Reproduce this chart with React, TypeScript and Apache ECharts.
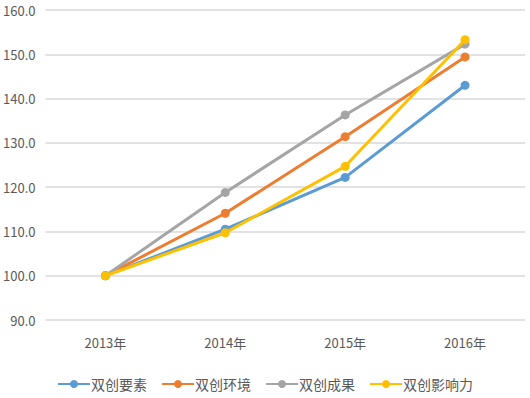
import React, { useEffect, useRef } from "react";
import * as echarts from "echarts";

const categories = ["2013年", "2014年", "2015年", "2016年"];
const seriesNames = ["双创要素", "双创环境", "双创成果", "双创影响力"];
const elementValues = [100.0, 110.5, 122.2, 143.0];
const environmentValues = [100.0, 114.1, 131.4, 149.4];
const achievementValues = [100.0, 118.8, 136.3, 152.3];
const influenceValues = [100.0, 109.7, 124.7, 153.3];
const colors = ["#5B9BD5", "#ED7D31", "#A5A5A5", "#FFC000"];

export default function App() {
  const ref = useRef<HTMLDivElement>(null);
  useEffect(() => {
    if (!ref.current) return;
    const chart = echarts.init(ref.current, null, { renderer: "svg" });
    const data = [elementValues, environmentValues, achievementValues, influenceValues];
    chart.setOption({
      animation: false,
      backgroundColor: "#ffffff",
      color: colors,
      textStyle: { fontFamily: "'Noto Sans CJK SC', 'Noto Sans', sans-serif" },
      grid: { left: 43, right: 5, top: 10, bottom: 78, containLabel: false },
      legend: {
        bottom: 2,
        left: "center",
        itemWidth: 32,
        itemHeight: 10,
        itemGap: 14,
        textStyle: { color: "#595959", fontSize: 14, padding: [0, 0, 0, -4] },
        data: seriesNames,
      },
      xAxis: {
        type: "category",
        data: categories,
        boundaryGap: true,
        axisLine: { show: false },
        axisTick: { show: false },
        axisLabel: { color: "#595959", fontSize: 13, margin: 16 },
      },
      yAxis: {
        type: "value",
        min: 90,
        max: 160,
        interval: 10,
        axisLine: { show: false },
        axisTick: { show: false },
        axisLabel: {
          color: "#595959",
          fontSize: 13,
          margin: 10,
          formatter: (v: number) => v.toFixed(1),
        },
        splitLine: { lineStyle: { color: "#D9D9D9", width: 1.5 } },
      },
      series: seriesNames.map((name, i) => ({
        name,
        type: "line",
        data: data[i],
        symbol: "circle",
        symbolSize: 9,
        lineStyle: { width: 3, color: colors[i] },
        itemStyle: { color: colors[i] },
        z: 2 + i,
      })),
    });
    return () => chart.dispose();
  }, []);
  return <div ref={ref} style={{ width: 530, height: 398, position: "absolute", left: 0, top: 0 }} />;
}
